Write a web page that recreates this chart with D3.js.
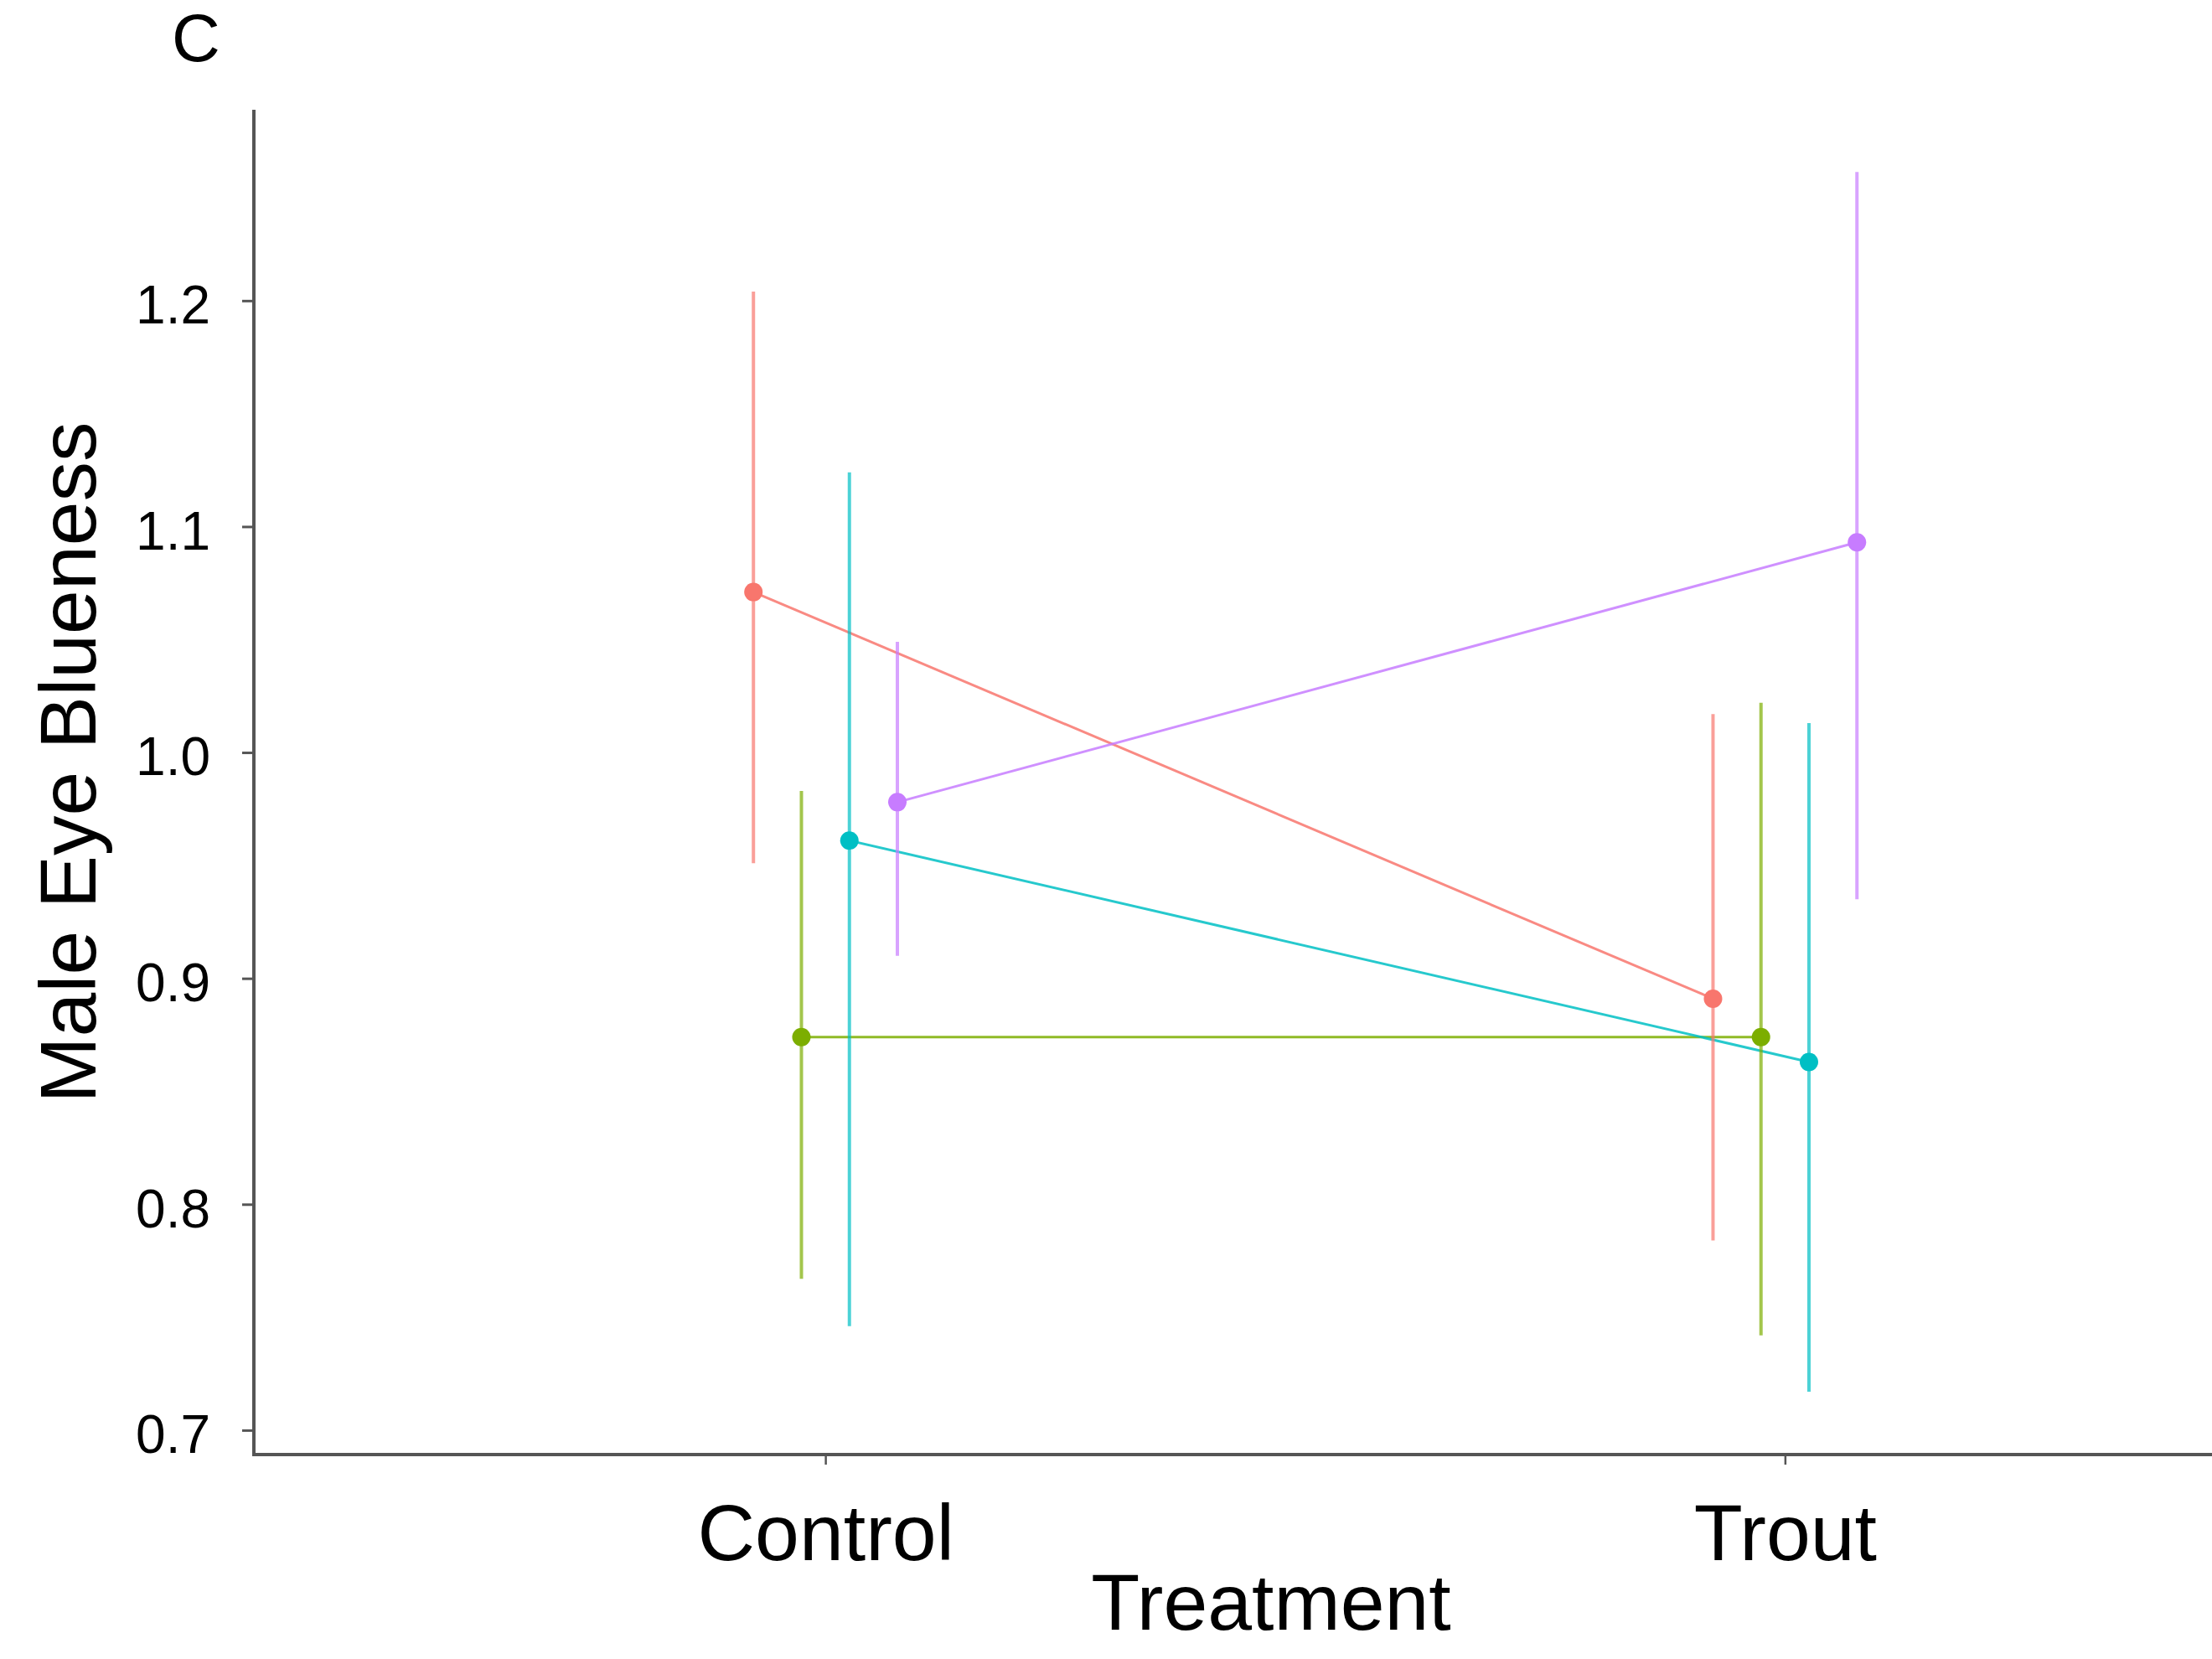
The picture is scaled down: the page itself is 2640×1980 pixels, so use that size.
<!DOCTYPE html>
<html>
<head>
<meta charset="utf-8">
<script src="https://cdn.jsdelivr.net/npm/d3@7"></script>
<style>
  html, body { margin: 0; padding: 0; background: #fff; }
  svg { display: block; }
  text { font-family: "Liberation Sans", Arial, sans-serif; fill: #000; }
</style>
</head>
<body>
<script>
// Treatment levels on the x axis
const treatments = ["Control", "Trout"];
// Groups, dodged side by side within each treatment
const groups = ["g1", "g2", "g3", "g4"];
const groupColors = ["#F8766D", "#7CAE00", "#00BFC4", "#C77CFF"];
// Mean male eye blueness per group: [Control, Trout]
const meanValues = [
  [1.071, 0.891],
  [0.874, 0.874],
  [0.961, 0.863],
  [0.978, 1.093]
];
// Lower and upper interval bounds per group: [Control, Trout]
const lowerValues = [
  [0.951, 0.784],
  [0.767, 0.742],
  [0.746, 0.717],
  [0.910, 0.935]
];
const upperValues = [
  [1.204, 1.017],
  [0.983, 1.022],
  [1.124, 1.013],
  [1.049, 1.257]
];
const yTicks = [0.7, 0.8, 0.9, 1.0, 1.1, 1.2];

(function draw() {
  const W = 2640, H = 1980;
  const mLeft = 303, mRight = 2640, mTop = 131, mBottom = 1736;
  const dodgeWidth = 0.2;

  const svg = d3.select("body").append("svg")
    .attr("width", W).attr("height", H);

  // Discrete treatments placed at positions 1, 2 on a continuous axis
  const x = d3.scaleLinear().domain([0.4044, 2.445]).range([mLeft, mRight]);
  const y = d3.scaleLinear().domain([0.6892, 1.2845]).range([mBottom, mTop]);

  const offset = i => (i - (groups.length - 1) / 2) * dodgeWidth / groups.length;

  const data = groups.map((g, i) => ({
    key: g,
    color: groupColors[i],
    pts: treatments.map((t, j) => ({
      xv: j + 1 + offset(i),
      mean: meanValues[i][j],
      lo: lowerValues[i][j],
      hi: upperValues[i][j]
    }))
  }));

  // Axes
  const yAxis = d3.axisLeft(y).tickValues(yTicks).tickSize(14).tickPadding(38)
    .tickFormat(d3.format(".1f"));
  const gy = svg.append("g").attr("transform", `translate(${mLeft},0)`).call(yAxis);
  gy.select(".domain").remove();
  gy.selectAll(".tick line").attr("stroke", "#555").attr("stroke-width", 3);
  gy.selectAll(".tick text").attr("font-size", 64).attr("fill", "#000")
    .attr("dy", "0.42em");

  const xAxis = d3.axisBottom(x).tickValues([1, 2]).tickSize(12)
    .tickFormat(d => treatments[d - 1]).tickPadding(38);
  const gx = svg.append("g").attr("transform", `translate(0,${mBottom})`).call(xAxis);
  gx.select(".domain").remove();
  gx.selectAll(".tick line").attr("stroke", "#555").attr("stroke-width", 2.5);
  gx.selectAll(".tick text").attr("font-size", 95).attr("fill", "#000")
    .attr("dy", "0.8em");

  // Axis lines
  svg.append("line").attr("x1", mLeft).attr("x2", mLeft).attr("y1", mTop).attr("y2", mBottom + 2)
    .attr("stroke", "#555").attr("stroke-width", 4);
  svg.append("line").attr("x1", mLeft - 2).attr("x2", mRight).attr("y1", mBottom).attr("y2", mBottom)
    .attr("stroke", "#555").attr("stroke-width", 4);

  // Lines joining the group means across treatments
  const line = d3.line().x(d => x(d.xv)).y(d => y(d.mean));
  svg.append("g").selectAll("path").data(data).join("path")
    .attr("d", d => line(d.pts))
    .attr("fill", "none")
    .attr("stroke", d => d.color)
    .attr("stroke-width", 3)
    .attr("stroke-opacity", 0.85);

  // Interval bars
  svg.append("g").selectAll("g").data(data).join("g")
    .attr("stroke", d => d.color)
    .selectAll("line").data(d => d.pts).join("line")
    .attr("x1", d => x(d.xv)).attr("x2", d => x(d.xv))
    .attr("y1", d => y(d.lo)).attr("y2", d => y(d.hi))
    .attr("stroke-width", 4)
    .attr("stroke-opacity", 0.7);

  // Mean points
  svg.append("g").selectAll("g").data(data).join("g")
    .attr("fill", d => d.color)
    .selectAll("circle").data(d => d.pts).join("circle")
    .attr("cx", d => x(d.xv)).attr("cy", d => y(d.mean))
    .attr("r", 11);

  // Axis titles and panel tag
  svg.append("text").attr("x", 1517).attr("y", 1945).attr("text-anchor", "middle")
    .attr("font-size", 95).text("Treatment");
  svg.append("text")
    .attr("transform", "translate(114,910) rotate(-90)")
    .attr("text-anchor", "middle").attr("font-size", 95).text("Male Eye Blueness");
  svg.append("text").attr("x", 234).attr("y", 73).attr("text-anchor", "middle")
    .attr("font-size", 80).text("C");
})();
</script>
</body>
</html>
